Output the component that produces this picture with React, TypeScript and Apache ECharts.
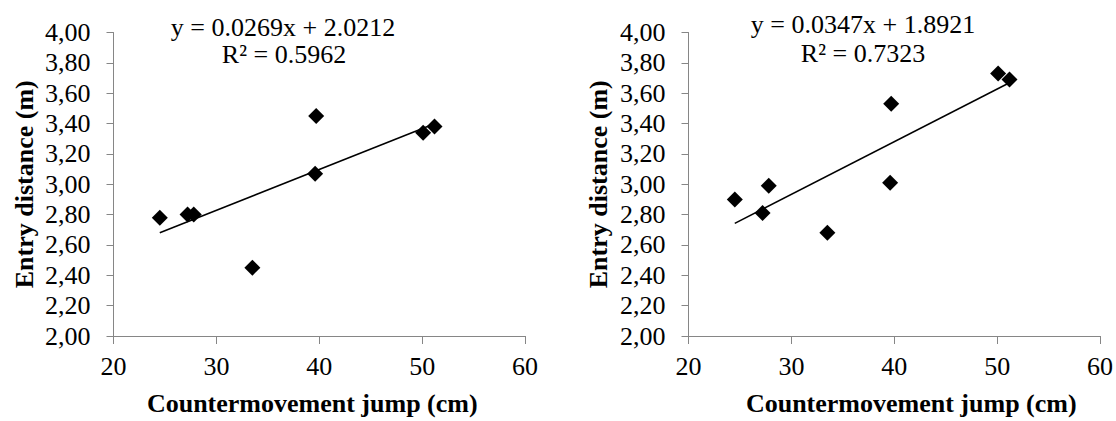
import React, { useEffect, useRef } from "react";
import * as echarts from "echarts";

// Countermovement jump (cm) — shared x values
const jumpCm = [24.5, 27.2, 27.8, 33.5, 39.6, 39.7, 50.1, 51.2];
// Entry distance (m), left panel
const entryLeft = [2.78, 2.8, 2.8, 2.45, 3.07, 3.45, 3.34, 3.38];
// Entry distance (m), right panel
const entryRight = [2.9, 2.81, 2.99, 2.68, 3.01, 3.53, 3.73, 3.69];

// Trendline coefficients as printed
const trendLeft = { slope: 0.0269, intercept: 2.0212, r2: "0.5962" };
const trendRight = { slope: 0.0347, intercept: 1.8921, r2: "0.7323" };

// Axis scales
const xMin = 20, xMax = 60, xStep = 10;
const yMin = 2, yMax = 4, yStep = 0.2;

const xTitle = "Countermovement jump (cm)";
const yTitle = "Entry distance (m)";

const SERIF = "Liberation Serif";

function pairs(xs: number[], ys: number[]) {
  return xs.map((x, i) => [x, ys[i]]);
}
function trendPts(xs: number[], t: { slope: number; intercept: number }) {
  const lo = Math.min(...xs);
  const hi = Math.max(...xs);
  return [
    [lo, t.slope * lo + t.intercept],
    [hi, t.slope * hi + t.intercept],
  ];
}
function eqText(t: { slope: number; intercept: number }) {
  return `y = ${t.slope.toFixed(4)}x + ${t.intercept.toFixed(4)}`;
}

export default function App() {
  const ref = useRef<HTMLDivElement>(null);
  useEffect(() => {
    document.body.style.margin = "0";
    if (!ref.current) return;
    const chart = echarts.init(ref.current, undefined, { renderer: "svg" });
    const axisLineStyle = { color: "#868686", width: 1 };
    const labelStyle = { fontFamily: SERIF, fontSize: 26, color: "#000" };
    const mkX = (gridIndex: number, gap: number, pad: number[]) => ({
      type: "value",
      gridIndex,
      min: xMin,
      max: xMax,
      interval: xStep,
      name: xTitle,
      nameLocation: "middle",
      nameGap: gap,
      nameTextStyle: { fontFamily: SERIF, fontWeight: "bold", fontSize: 26, color: "#000", padding: pad },
      axisLine: { show: true, lineStyle: axisLineStyle },
      axisTick: { show: true, length: 8, lineStyle: axisLineStyle },
      axisLabel: { ...labelStyle, margin: 17 },
      splitLine: { show: false },
    });
    const mkY = (gridIndex: number, gap: number) => ({
      type: "value",
      gridIndex,
      min: yMin,
      max: yMax,
      interval: yStep,
      name: yTitle,
      nameLocation: "middle",
      nameGap: gap,
      nameTextStyle: { fontFamily: SERIF, fontWeight: "bold", fontSize: 26, color: "#000" },
      axisLine: { show: true, lineStyle: axisLineStyle },
      axisTick: { show: true, length: 7, lineStyle: axisLineStyle },
      axisLabel: {
        ...labelStyle,
        margin: 23,
        formatter: (v: number) => v.toFixed(2).replace(".", ","),
      },
      splitLine: { show: false },
    });
    const scatter = (idx: number, data: number[][]) => ({
      type: "scatter",
      xAxisIndex: idx,
      yAxisIndex: idx,
      data,
      symbol: "diamond",
      symbolSize: 16,
      itemStyle: { color: "#000", opacity: 1 },
      z: 2,
    });
    const trend = (idx: number, data: number[][]) => ({
      type: "line",
      xAxisIndex: idx,
      yAxisIndex: idx,
      data,
      symbol: "none",
      lineStyle: { color: "#000", width: 1.5 },
      z: 3,
    });
    const textEl = (x: number, y: number, text: string) => ({
      type: "text",
      x,
      y,
      style: { text, fontFamily: SERIF, fontSize: 26, fill: "#000", textAlign: "center", textVerticalAlign: "middle" },
    });
    chart.setOption({
      animation: false,
      backgroundColor: "#fff",
      grid: [
        { left: 113.5, top: 32.5, width: 411.5, height: 307.5 },
        { left: 688.5, top: 32.5, width: 411.5, height: 307.5 },
      ],
      xAxis: [mkX(0, 54, [0, 14, 0, 0]), mkX(1, 54, [0, 0, 0, 34])],
      yAxis: [mkY(0, 76), mkY(1, 77)],
      series: [
        scatter(0, pairs(jumpCm, entryLeft)),
        trend(0, trendPts(jumpCm, trendLeft)),
        scatter(1, pairs(jumpCm, entryRight)),
        trend(1, trendPts(jumpCm, trendRight)),
      ],
      graphic: [
        textEl(283, 27, eqText(trendLeft)),
        textEl(284, 54, `R² = ${trendLeft.r2}`),
        textEl(863, 24, eqText(trendRight)),
        textEl(863, 53, `R² = ${trendRight.r2}`),
      ],
    });
    return () => chart.dispose();
  }, []);
  return <div ref={ref} style={{ width: 1116, height: 421 }} />;
}
